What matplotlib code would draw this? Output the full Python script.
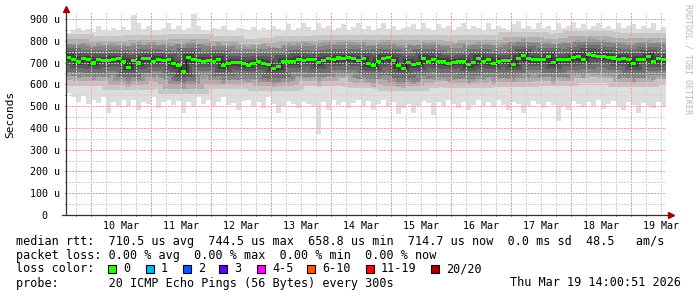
import numpy as np
import matplotlib
matplotlib.use('Agg')
import matplotlib.pyplot as plt
from matplotlib.patches import Rectangle

# 2 hour bins from Mar 9 14:00 to Mar 19 14:00 (values in microseconds)
median = [725, 715, 703, 718, 716, 698, 712, 708, 711, 715, 717, 706,
          678, 708, 698, 718, 720, 707, 715, 711, 712, 695, 685, 660,
          725, 712, 710, 705, 711, 705, 715, 686, 696, 701, 700, 694,
          688, 696, 704, 697, 692, 673, 682, 705, 706, 703, 715, 710,
          712, 712, 700, 710, 717, 712, 721, 718, 722, 717, 710, 718,
          695, 688, 706, 720, 723, 710, 685, 674, 702, 690, 695, 719,
          707, 715, 704, 705, 697, 702, 704, 707, 690, 700, 719, 704,
          712, 696, 705, 708, 708, 692, 720, 734, 718, 712, 712, 714,
          727, 700, 712, 714, 712, 722, 730, 715, 738, 733, 730, 730,
          724, 721, 712, 720, 712, 694, 715, 715, 730, 707, 718, 712]

smoke_hi = [835, 850, 860, 845, 855, 840, 870, 850, 845, 860, 850, 865,
            850, 920, 880, 855, 870, 850, 845, 860, 880, 855, 870, 850,
            860, 925, 870, 850, 845, 860, 855, 870, 850, 845, 860, 855,
            850, 865, 845, 860, 850, 870, 855, 845, 875, 850, 860, 880,
            865, 850, 880, 860, 870, 850, 860, 875, 850, 865, 880, 855,
            870, 850, 860, 880, 855, 870, 850, 860, 865, 875, 855, 880,
            860, 850, 875, 860, 870, 850, 865, 880, 855, 870, 860, 850,
            880, 855, 870, 860, 850, 875, 890, 860, 870, 855, 880, 860,
            870, 850, 880, 860, 870, 885, 860, 875, 855, 870, 880, 860,
            870, 855, 880, 860, 870, 875, 855, 870, 860, 880, 850, 865]

smoke_lo = [560, 540, 520, 545, 510, 530, 515, 540, 470, 520, 500, 530,
            500, 530, 480, 520, 510, 540, 490, 520, 530, 505, 525, 470,
            520, 500, 540, 510, 530, 495, 520, 540, 505, 515, 480, 525,
            530, 500, 520, 490, 540, 510, 470, 500, 525, 510, 490, 520,
            510, 500, 370, 520, 480, 530, 505, 520, 490, 515, 530, 500,
            525, 480, 510, 530, 500, 520, 465, 490, 510, 470, 500, 525,
            515, 460, 520, 500, 530, 510, 490, 520, 480, 505, 530, 500,
            520, 495, 530, 505, 480, 520, 510, 470, 500, 525, 510, 490,
            520, 505, 430, 500, 480, 525, 510, 495, 520, 500, 530, 485,
            510, 525, 500, 480, 520, 505, 470, 515, 500, 490, 520, 495]

core_hi = [785, 780, 775, 790, 785, 770, 790, 780, 785, 790, 780, 785,
           775, 790, 800, 780, 790, 795, 780, 785, 790, 775, 785, 765,
           795, 805, 785, 780, 790, 775, 795, 780, 775, 785, 780, 775,
           770, 780, 775, 785, 775, 770, 765, 780, 790, 780, 790, 795,
           790, 785, 790, 795, 800, 785, 800, 795, 800, 795, 790, 795,
           780, 775, 790, 800, 805, 790, 770, 765, 785, 775, 780, 795,
           790, 795, 785, 780, 780, 785, 790, 790, 775, 785, 795, 785,
           790, 780, 785, 790, 790, 780, 800, 810, 795, 790, 790, 795,
           800, 785, 790, 795, 790, 800, 805, 795, 815, 810, 805, 805,
           800, 800, 795, 800, 790, 780, 795, 795, 805, 790, 795, 790]

core_lo = [650, 640, 630, 645, 640, 620, 640, 635, 630, 645, 640, 635,
           590, 635, 620, 645, 650, 630, 640, 635, 640, 625, 615, 580,
           640, 630, 635, 625, 635, 630, 640, 600, 620, 625, 620, 615,
           610, 620, 625, 620, 615, 590, 605, 625, 630, 625, 635, 630,
           630, 635, 590, 630, 640, 635, 640, 635, 640, 630, 625, 635,
           610, 590, 625, 640, 645, 630, 590, 585, 620, 600, 610, 640,
           625, 620, 620, 625, 615, 620, 625, 630, 600, 615, 640, 620,
           630, 600, 625, 630, 625, 610, 640, 650, 635, 630, 630, 635,
           640, 595, 630, 630, 625, 640, 645, 630, 650, 645, 645, 640,
           640, 635, 625, 640, 630, 605, 630, 630, 645, 620, 635, 630]

day_labels = ['10 Mar', '11 Mar', '12 Mar', '13 Mar', '14 Mar',
              '15 Mar', '16 Mar', '17 Mar', '18 Mar', '19 Mar']
y_ticks = [0, 100, 200, 300, 400, 500, 600, 700, 800, 900]
y_labels = ['  0  ', '100 u', '200 u', '300 u', '400 u',
            '500 u', '600 u', '700 u', '800 u', '900 u']
loss_labels = ['0', '1', '2', '3', '4-5', '6-10', '11-19', '20/20']
loss_colors = ['#26ff00', '#00b8ff', '#0059ff', '#5e00ff',
               '#ff00ff', '#ff5500', '#ff0000', '#a00000']

W, H = 697, 297
MONO = 'DejaVu Sans Mono'


def fx(x):
    return x / W


def fy(y):
    return (H - y) / H


fig = plt.figure(figsize=(W / 100, H / 100), dpi=100)
ax = fig.add_axes([fx(66), fy(215), 600 / W, 202.5 / H])
ax.set_xlim(0, 240)
ax.set_ylim(0, 930)
for s in ax.spines.values():
    s.set_visible(False)

edges = np.arange(len(median) + 1) * 2.0


def ext(a):
    return np.append(a, a[-1])


med = np.array(median, dtype=float)

# smoke
ax.fill_between(edges, ext(smoke_lo), ext(smoke_hi), step='post',
                color='#dddddd', lw=0, zorder=1)
ax.fill_between(edges, ext(core_lo), ext(core_hi), step='post',
                color='#c6c6c6', lw=0, zorder=1.1)
for w, a in [(46, 0.1), (36, 0.12), (27, 0.14), (19, 0.17), (12, 0.2), (6, 0.25)]:
    ax.step(edges, ext(med), where='post', color='black', alpha=a,
            lw=w * 0.72, solid_capstyle='butt', solid_joinstyle='miter',
            zorder=1.2)

# grid (dotted, 1px)
for h in np.arange(4, 240, 6):
    red = (h - 10) % 24 == 0
    ax.axvline(h, color='#f0a0a0' if red else '#d2d2d2', lw=1,
               ls=(0, (1, 1)), antialiased=False, zorder=2)
for v in range(50, 930, 50):
    ax.axhline(v, color='#f0a0a0' if v % 100 == 0 else '#d2d2d2', lw=1,
               ls=(0, (1, 1)), antialiased=False, zorder=2)

# median with loss colour
ax.step(edges, ext(med), where='post', color='#202020', lw=0.8, zorder=3)
sw = 7
ax.fill_between(edges, ext(med - sw), ext(med + sw), step='post',
                color=loss_colors[0], lw=0, zorder=3.1)

# axes with arrows
ax.plot([-1.6, 240.8], [0, 0], color='#303030', lw=0.9, clip_on=False, zorder=5)
ax.plot([0, 0], [0, 945], color='#303030', lw=0.9, clip_on=False, zorder=5)
ax.plot([241.8], [0], marker='>', ms=4, color='#a00000', clip_on=False, zorder=6)
ax.plot([0], [948], marker='^', ms=4, color='#a00000', clip_on=False, zorder=6)

ax.set_yticks(y_ticks, y_labels, family=MONO, fontsize=7.2)
ax.set_yticks(range(50, 900, 100), minor=True)
ax.set_xticks([22 + 24 * i for i in range(len(day_labels))], day_labels,
              family=MONO, fontsize=7.2)
ax.set_xticks(np.arange(4, 240, 6), minor=True)
ax.tick_params(axis='x', which='major', length=0, pad=4)
ax.tick_params(axis='y', which='major', length=2, width=0.7, direction='inout',
               color='#303030', pad=3)
ax.tick_params(which='minor', length=2, width=0.7, direction='inout',
               color='#303030')

fig.text(fx(10), fy(114), 'Seconds', rotation=90, ha='center', va='center',
         family=MONO, fontsize=8)
fig.text(fx(688), fy(59), 'RRDTOOL / TOBI OETIKER', rotation=270,
         ha='center', va='center', family=MONO, fontsize=6, color='#b8b8b8')

# legend block
fs = 8.5
fig.text(fx(16), fy(241), 'median rtt:  710.5 us avg  744.5 us max  658.8 us min'
         '  714.7 us now  0.0 ms sd  48.5   am/s', va='center', family=MONO, fontsize=fs)
fig.text(fx(16), fy(255), 'packet loss: 0.00 % avg  0.00 % max  0.00 % min  0.00 % now',
         va='center', family=MONO, fontsize=fs)
fig.text(fx(16), fy(269), 'loss color:', va='center', family=MONO, fontsize=fs)
sq_x = [108, 146, 183, 219, 257, 307, 366, 431]
for x0, lab, col in zip(sq_x, loss_labels, loss_colors):
    fig.patches.append(Rectangle((fx(x0), fy(273)), 8 / W, 8 / H,
                                 transform=fig.transFigure, facecolor=col,
                                 edgecolor='black', lw=0.8))
    fig.text(fx(x0 + 15), fy(269), lab, va='center', family=MONO, fontsize=fs)
fig.text(fx(16), fy(283), 'probe:       20 ICMP Echo Pings (56 Bytes) every 300s',
         va='center', family=MONO, fontsize=fs)
fig.text(fx(681), fy(283), 'Thu Mar 19 14:00:51 2026', ha='right',
         va='center', family=MONO, fontsize=fs)

fig.savefig('out.png', dpi=100)
print('saved out.png')
